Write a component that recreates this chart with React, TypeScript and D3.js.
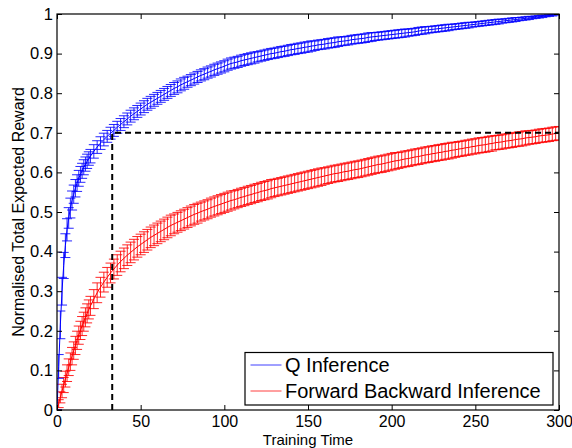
import { useEffect, useRef } from "react";
import * as d3 from "d3";

// training time samples (dense at the start, then every 2)
const times = [...d3.range(0, 20, 1), ...d3.range(20, 301, 2)];

// values in thousandths
const qMean = [
  0, 110, 215, 300, 365, 415, 455, 485, 510, 529, 545, 560, 573, 585, 595, 604, 613, 621, 628, 635,
  641, 653, 664, 674, 683, 691, 699, 706, 714, 721, 728, 735, 742, 748, 754, 760, 766, 772, 777, 782,
  787, 792, 797, 802, 807, 812, 816, 821, 825, 829, 833, 837, 841, 845, 848, 852, 855, 859, 862, 865,
  868, 872, 875, 877, 879, 882, 884, 886, 888, 890, 892, 894, 896, 898, 900, 901, 903, 905, 906, 908,
  910, 911, 913, 914, 916, 917, 919, 920, 922, 923, 924, 926, 927, 928, 930, 931, 932, 933, 935, 936,
  937, 938, 939, 941, 942, 943, 944, 945, 946, 947, 948, 949, 950, 951, 952, 953, 954, 955, 957, 958,
  959, 960, 961, 962, 963, 964, 965, 966, 967, 968, 969, 970, 971, 972, 973, 974, 975, 976, 977, 978,
  979, 980, 981, 982, 983, 984, 985, 986, 987, 988, 989, 990, 991, 992, 993, 994, 995, 996, 997, 998,
  1000,
];
const qErr = [
  0, 30, 35, 35, 33, 30, 28, 26, 25, 24, 23, 22, 21, 20, 20, 19, 19, 18, 18, 17,
  17, 17, 16, 16, 16, 15, 15, 15, 15, 15, 15, 15, 15, 15, 15, 15, 15, 15, 15, 15,
  15, 15, 15, 15, 15, 15, 15, 15, 15, 14, 14, 14, 14, 14, 14, 14, 14, 14, 14, 14,
  14, 14, 14, 14, 14, 14, 14, 14, 14, 14, 13, 13, 13, 13, 13, 13, 13, 13, 13, 13,
  13, 13, 13, 13, 13, 13, 13, 12, 12, 12, 12, 12, 12, 12, 12, 11, 11, 11, 11, 11,
  11, 11, 11, 11, 11, 10, 10, 10, 10, 10, 10, 10, 10, 10, 10, 9, 9, 9, 9, 9,
  9, 8, 8, 8, 8, 8, 8, 8, 7, 7, 7, 7, 7, 7, 6, 6, 6, 6, 6, 6,
  6, 6, 6, 5, 5, 5, 5, 5, 4, 4, 4, 4, 3, 3, 3, 3, 2, 2, 2, 1,
  0,
];
const fbMean = [
  0, 16, 32, 48, 63, 78, 93, 108, 122, 136, 150, 163, 176, 189, 201, 212, 223, 234, 244, 254,
  263, 280, 296, 310, 323, 335, 346, 356, 366, 375, 383, 391, 398, 405, 412, 418, 424, 430, 436, 441,
  446, 451, 456, 461, 466, 470, 474, 478, 482, 486, 490, 494, 497, 501, 504, 507, 511, 514, 517, 520,
  523, 526, 529, 531, 534, 537, 539, 542, 544, 547, 549, 552, 554, 556, 559, 561, 563, 565, 567, 569,
  571, 573, 575, 577, 579, 581, 583, 585, 587, 589, 591, 593, 595, 597, 598, 600, 602, 603, 605, 607,
  608, 610, 612, 614, 616, 618, 620, 621, 623, 625, 627, 629, 630, 632, 634, 635, 637, 639, 640, 642,
  644, 645, 647, 648, 650, 651, 653, 654, 656, 657, 659, 660, 662, 663, 665, 666, 668, 669, 670, 672,
  673, 675, 676, 677, 679, 680, 681, 683, 684, 685, 687, 688, 689, 690, 692, 693, 694, 695, 697, 698,
  699,
];
const fbErr = [
  0, 10, 14, 17, 19, 20, 21, 21, 22, 22, 22, 23, 23, 23, 23, 24, 24, 24, 24, 24,
  24, 24, 25, 25, 25, 25, 25, 25, 26, 26, 26, 26, 26, 26, 26, 26, 26, 26, 26, 26,
  26, 26, 26, 26, 26, 25, 25, 25, 25, 25, 25, 25, 25, 24, 24, 24, 24, 24, 24, 24,
  24, 24, 24, 23, 23, 23, 23, 23, 23, 23, 23, 23, 23, 23, 23, 22, 22, 22, 22, 22,
  22, 22, 22, 22, 22, 22, 22, 22, 22, 22, 21, 21, 21, 21, 21, 21, 21, 21, 21, 21,
  21, 21, 21, 21, 21, 21, 21, 21, 21, 21, 21, 21, 20, 20, 20, 20, 20, 20, 20, 20,
  20, 20, 20, 20, 20, 20, 20, 20, 20, 19, 19, 19, 19, 19, 19, 19, 19, 19, 19, 19,
  19, 18, 18, 18, 18, 18, 18, 18, 18, 18, 18, 17, 17, 17, 17, 17, 17, 17, 17, 17,
  17,
];

const seriesNames = ["Q Inference", "Forward Backward Inference"];
const seriesColors = ["#0000ff", "#ff0000"];
const xTicks = [0, 50, 100, 150, 200, 250, 300];
const yTicks = [0, 0.1, 0.2, 0.3, 0.4, 0.5, 0.6, 0.7, 0.8, 0.9, 1];
const markTime = 33;
const markReward = 0.7;

type Pt = { t: number; v: number; e: number };

const toPts = (mean: number[], err: number[]): Pt[] =>
  times.map((t, i) => ({ t, v: mean[i] / 1000, e: err[i] / 1000 }));

const width = 572;
const height = 448;
const margin = { top: 14, right: 13, bottom: 38, left: 57 };
const font = "'Liberation Sans', Arial, Helvetica, sans-serif";

const App = () => {
  const svgRef = useRef<SVGSVGElement>(null);

  useEffect(() => {
    if (!svgRef.current) return;
    const svg = d3.select(svgRef.current);
    svg.selectAll("*").remove();

    const x = d3.scaleLinear().domain([0, 300]).range([margin.left, width - margin.right]);
    const y = d3.scaleLinear().domain([0, 1]).range([height - margin.bottom, margin.top]);
    const tee = x(3) - x(0); // matlab errorbar cap: 1% of x range each side

    svg
      .append("defs")
      .append("clipPath")
      .attr("id", "plot-clip")
      .append("rect")
      .attr("x", x(0))
      .attr("y", y(1))
      .attr("width", x(300) - x(0))
      .attr("height", y(0) - y(1));

    const plot = svg.append("g").attr("clip-path", "url(#plot-clip)");
    const series = [toPts(fbMean, fbErr), toPts(qMean, qErr)];
    const colors = [seriesColors[1], seriesColors[0]];

    const line = d3
      .line<Pt>()
      .x((d) => x(d.t))
      .y((d) => y(d.v));

    series.forEach((pts, k) => {
      // error bars
      const d = pts
        .map((p) => {
          const cx = x(p.t);
          const y1 = y(p.v - p.e);
          const y2 = y(p.v + p.e);
          return `M${cx},${y1}V${y2}M${cx - tee},${y1}H${cx + tee}M${cx - tee},${y2}H${cx + tee}`;
        })
        .join("");
      plot
        .append("path")
        .attr("d", d)
        .attr("fill", "none")
        .attr("stroke", colors[k])
        .attr("stroke-width", 1)
        .attr("stroke-opacity", 0.85);

      plot
        .append("path")
        .datum(pts)
        .attr("fill", "none")
        .attr("stroke", colors[k])
        .attr("stroke-width", 1)
        .attr("d", line);
    });

    // dashed marker
    plot
      .append("path")
      .attr("d", `M${x(markTime)},${y(0)}V${y(markReward)}H${x(300)}`)
      .attr("fill", "none")
      .attr("stroke", "#000")
      .attr("stroke-width", 2)
      .attr("stroke-dasharray", "6,4");

    // axes, ticks pointing inward
    const styleAxis = (g: d3.Selection<SVGGElement, unknown, null, undefined>) => {
      g.select(".domain").remove();
      g.selectAll("line").attr("stroke", "#000");
      g.selectAll("text")
        .attr("fill", "#000")
        .style("font-family", font)
        .style("font-size", "16.5px");
    };

    svg
      .append("g")
      .attr("transform", `translate(0,${y(0)})`)
      .call(d3.axisBottom(x).tickValues(xTicks).tickSizeInner(-5).tickSizeOuter(0).tickPadding(6))
      .call(styleAxis)
      .call((g) => g.selectAll("text").style("font-size", "16px"));
    svg
      .append("g")
      .attr("transform", `translate(0,${y(1)})`)
      .call(d3.axisTop(x).tickValues(xTicks).tickSizeInner(-5).tickSizeOuter(0).tickFormat(() => ""))
      .call(styleAxis);
    svg
      .append("g")
      .attr("transform", `translate(${x(0)},0)`)
      .call(
        d3
          .axisLeft(y)
          .tickValues(yTicks)
          .tickSizeInner(-5)
          .tickSizeOuter(0)
          .tickPadding(4)
          .tickFormat((d) => d3.format("~g")(d as number)),
      )
      .call(styleAxis);
    svg
      .append("g")
      .attr("transform", `translate(${x(300)},0)`)
      .call(d3.axisRight(y).tickValues(yTicks).tickSizeInner(-5).tickSizeOuter(0).tickFormat(() => ""))
      .call(styleAxis);

    svg
      .append("rect")
      .attr("x", x(0))
      .attr("y", y(1))
      .attr("width", x(300) - x(0))
      .attr("height", y(0) - y(1))
      .attr("fill", "none")
      .attr("stroke", "#000")
      .attr("stroke-width", 1.2);

    // axis labels
    svg
      .append("text")
      .attr("x", (x(0) + x(300)) / 2)
      .attr("y", 444.8)
      .attr("text-anchor", "middle")
      .style("font-family", font)
      .style("font-size", "15px")
      .text("Training Time");
    svg
      .append("text")
      .attr("transform", `translate(23.5,${(y(0) + y(1)) / 2}) rotate(-90)`)
      .attr("text-anchor", "middle")
      .style("font-family", font)
      .style("font-size", "16px")
      .text("Normalised Total Expected Reward");

    // legend
    const lg = svg.append("g").attr("transform", "translate(245,352.5)");
    lg.append("rect")
      .attr("width", 308)
      .attr("height", 52.5)
      .attr("fill", "#fff")
      .attr("stroke", "#000")
      .attr("stroke-width", 1.2);
    seriesNames.forEach((name, i) => {
      const ry = 12.5 + i * 26;
      lg.append("line")
        .attr("x1", 5.5)
        .attr("x2", 36.5)
        .attr("y1", ry)
        .attr("y2", ry)
        .attr("stroke", seriesColors[i])
        .attr("stroke-opacity", 0.75)
        .attr("stroke-width", 1);
      lg.append("text")
        .attr("x", 40)
        .attr("y", ry)
        .attr("dy", "0.36em")
        .style("font-family", font)
        .style("font-size", "20px")
        .text(name);
    });
  }, []);

  return (
    <svg
      ref={svgRef}
      width={width}
      height={height}
      style={{ position: "absolute", left: 0, top: 0, background: "#fff" }}
    ></svg>
  );
};

export default App;
